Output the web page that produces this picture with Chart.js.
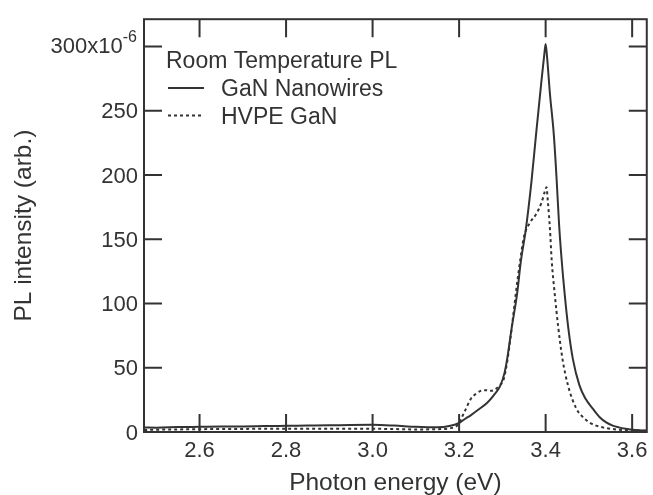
<!DOCTYPE html>
<html>
<head>
<meta charset="utf-8">
<script src="https://cdn.jsdelivr.net/npm/chart.js@4.4.0/dist/chart.umd.min.js"></script>
<style>
  html, body { margin: 0; padding: 0; background: #fff; }
</style>
</head>
<body>
<canvas id="plChart" width="653" height="495"></canvas>
<script>
// Room temperature PL spectra (units of 1e-6 arb.)
const nanowireEnergy = [2.472, 2.5, 2.55, 2.6, 2.65, 2.7, 2.75, 2.8, 2.85, 2.9, 2.95, 3.0, 3.05, 3.1, 3.15, 3.18,
  3.2, 3.215, 3.226, 3.245, 3.265, 3.28, 3.295, 3.305, 3.311, 3.322, 3.334, 3.343, 3.354, 3.367, 3.378, 3.39,
  3.397, 3.4, 3.403, 3.41, 3.419, 3.425, 3.431, 3.437, 3.444, 3.452, 3.463, 3.478, 3.492, 3.509, 3.525, 3.54,
  3.555, 3.569, 3.585, 3.6, 3.615, 3.634];
const nanowireIntensity = [3.5, 3.4, 3.8, 4.0, 4.2, 4.3, 4.6, 4.8, 5.0, 5.2, 5.5, 5.6, 5.0, 4.0, 3.6, 4.8,
  7.0, 10.5, 12.8, 17.5, 22.8, 28.5, 35.9, 46, 56.7, 82, 107.5, 133.6, 157, 194, 232, 272,
  294, 302, 293, 263, 231, 199, 162, 134, 107.5, 82, 56.7, 36.5, 26, 18.2, 11.5, 7.5,
  5.0, 3.6, 2.5, 1.8, 1.4, 1.2];

const hvpeEnergy = [2.472, 2.5, 2.55, 2.6, 2.7, 2.8, 2.9, 3.0, 3.05, 3.1, 3.15, 3.18, 3.196, 3.212, 3.227,
  3.24, 3.25, 3.262, 3.273, 3.283, 3.292, 3.303, 3.312, 3.322, 3.331, 3.341, 3.35, 3.364, 3.379, 3.391,
  3.398, 3.402, 3.405, 3.41, 3.414, 3.421, 3.429, 3.439, 3.452, 3.471, 3.485, 3.501, 3.515, 3.532, 3.55,
  3.57, 3.6, 3.634];
const hvpeIntensity = [1.5, 1.8, 2.0, 2.2, 2.4, 2.6, 2.6, 2.5, 2.3, 2.0, 2.2, 3.0, 5.2, 15.4, 25.7,
  30, 32, 32.5, 32, 33, 36, 41, 56.5, 82, 107.5, 133, 152, 163, 170, 179,
  187, 190.5, 180, 158, 133.6, 107.5, 82, 56.7, 35.9, 18.2, 12, 7.5, 5.2, 3.6, 2.5,
  1.8, 1.2, 1.0];

const xTicks = [2.6, 2.8, 3.0, 3.2, 3.4, 3.6];
const yTicks = [0, 50, 100, 150, 200, 250, 300];

const ink = "#333";

const toPoints = (xs, ys) => xs.map((x, i) => ({ x: x, y: ys[i] }));

// frame, inward mirrored ticks, the 300x10^-6 label and the legend box
const decorations = {
  id: "decorations",
  afterDraw(chart) {
    const { ctx, chartArea: a, scales: { x, y } } = chart;
    const tl = 18;
    ctx.save();
    ctx.strokeStyle = ink;
    ctx.lineWidth = 2;
    ctx.setLineDash([]);
    ctx.strokeRect(a.left, a.top, a.right - a.left, a.bottom - a.top);

    ctx.beginPath();
    xTicks.forEach(v => {
      const px = x.getPixelForValue(v);
      ctx.moveTo(px, a.bottom); ctx.lineTo(px, a.bottom - tl);
      ctx.moveTo(px, a.top); ctx.lineTo(px, a.top + tl);
    });
    yTicks.forEach(v => {
      const py = y.getPixelForValue(v);
      ctx.moveTo(a.left, py); ctx.lineTo(a.left + tl, py);
      ctx.moveTo(a.right, py); ctx.lineTo(a.right - tl, py);
    });
    ctx.stroke();

    // top tick label with superscript exponent
    const py = y.getPixelForValue(300);
    ctx.fillStyle = ink;
    ctx.textBaseline = "alphabetic";
    ctx.textAlign = "right";
    ctx.font = "16px 'Liberation Sans', Arial, sans-serif";
    const supW = ctx.measureText("-6").width;
    ctx.fillText("-6", a.left - 7, py - 4);
    ctx.font = "22px 'Liberation Sans', Arial, sans-serif";
    ctx.fillText("300x10", a.left - 7 - supW, py + 6.6);

    // legend
    ctx.font = "23px 'Liberation Sans', Arial, sans-serif";
    ctx.textAlign = "left";
    ctx.fillText("Room Temperature PL", 166, 67.5);
    ctx.fillText("GaN Nanowires", 221, 96);
    ctx.fillText("HVPE GaN", 221, 124);
    ctx.beginPath();
    ctx.moveTo(168, 88); ctx.lineTo(204, 88);
    ctx.stroke();
    ctx.setLineDash([3, 3]);
    ctx.beginPath();
    ctx.moveTo(168, 115.5); ctx.lineTo(204, 115.5);
    ctx.stroke();
    ctx.restore();
  }
};

const ctx = document.getElementById("plChart").getContext("2d");
new Chart(ctx, {
  type: "scatter",
  data: {
    datasets: [
      {
        label: "GaN Nanowires",
        data: toPoints(nanowireEnergy, nanowireIntensity),
        showLine: true,
        borderColor: ink,
        borderWidth: 2,
        pointRadius: 0,
        cubicInterpolationMode: "monotone",
      },
      {
        label: "HVPE GaN",
        data: toPoints(hvpeEnergy, hvpeIntensity),
        showLine: true,
        borderColor: ink,
        borderWidth: 2,
        borderDash: [3, 3],
        pointRadius: 0,
        cubicInterpolationMode: "monotone",
      },
    ],
  },
  options: {
    responsive: false,
    animation: false,
    layout: { padding: { top: 13, right: 2, bottom: 0, left: 0 } },
    plugins: {
      legend: { display: false },
      tooltip: { enabled: false },
    },
    scales: {
      x: {
        type: "linear",
        min: 2.4716,
        max: 3.6338,
        afterBuildTicks: s => { s.ticks = xTicks.map(v => ({ value: v })); },
        afterFit: s => { s.height = 63; },
        grid: { display: false, drawTicks: false },
        border: { display: false },
        ticks: {
          color: ink,
          padding: 5.5,
          font: { family: "'Liberation Sans', Arial, sans-serif", size: 22 },
          callback: v => v.toFixed(1),
        },
        title: {
          display: true,
          text: "Photon energy (eV)",
          color: ink,
          padding: { top: 0, bottom: 0 },
          font: { family: "'Liberation Sans', Arial, sans-serif", size: 24.5, lineHeight: 1 },
        },
      },
      y: {
        type: "linear",
        min: 0,
        max: 321.2,
        afterBuildTicks: s => { s.ticks = yTicks.map(v => ({ value: v })); },
        afterFit: s => { s.width = 144; },
        grid: { display: false, drawTicks: false },
        border: { display: false },
        ticks: {
          color: ink,
          padding: 6,
          labelOffset: 1.5,
          font: { family: "'Liberation Sans', Arial, sans-serif", size: 22 },
          callback: v => (v === 300 ? "" : String(v)),
        },
        title: {
          display: true,
          text: "PL intensity (arb.)",
          color: ink,
          padding: { top: 12, bottom: 0 },
          font: { family: "'Liberation Sans', Arial, sans-serif", size: 24.5, lineHeight: 1 },
        },
      },
    },
  },
  plugins: [decorations],
});
</script>
</body>
</html>
